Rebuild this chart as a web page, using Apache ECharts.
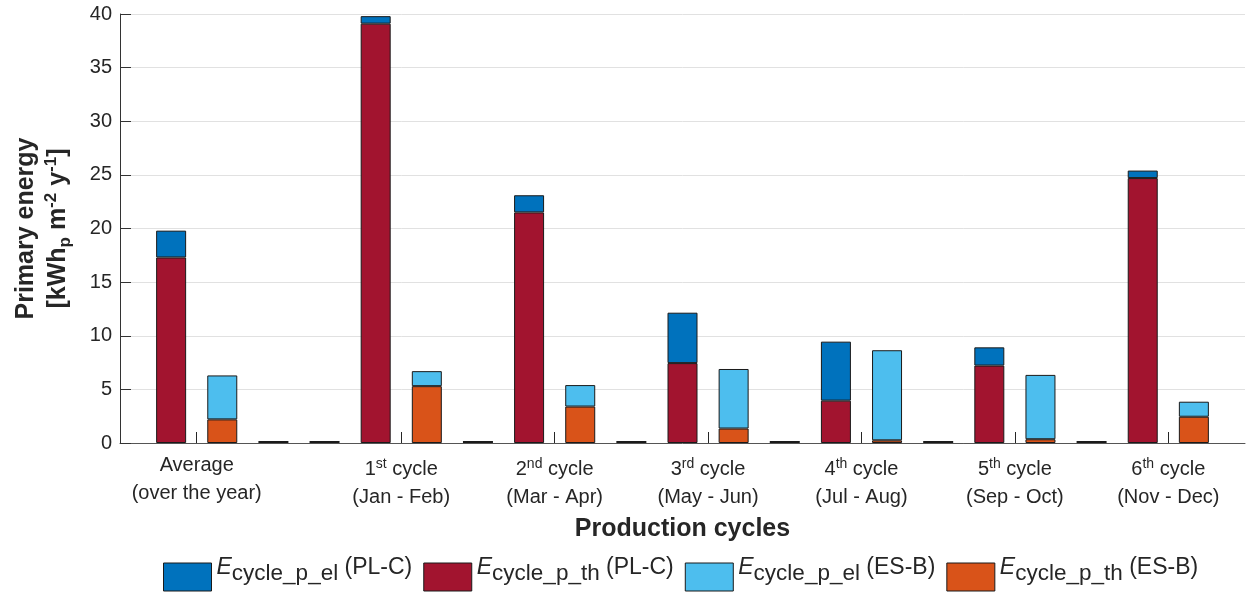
<!DOCTYPE html>
<html>
<head>
<meta charset="utf-8">
<title>Primary energy per production cycle</title>
<script src="https://cdn.jsdelivr.net/npm/echarts@6/dist/echarts.min.js"></script>
<style>
  html, body { margin: 0; padding: 0; background: #ffffff; }
  #chart { width: 1248px; height: 599px; }
</style>
</head>
<body>
<div id="chart"></div>
<script>
// Category labels: first line (with ^ marking a superscript) and period line
const categories = ['Average', '1^st cycle', '2^nd cycle', '3^rd cycle', '4^th cycle', '5^th cycle', '6^th cycle'];
const periods = ['(over the year)', '(Jan - Feb)', '(Mar - Apr)', '(May - Jun)', '(Jul - Aug)', '(Sep - Oct)', '(Nov - Dec)'];

// Primary energy, kWh_p m^-2 y^-1
const plcTh = [17.3, 39.1, 21.5, 7.45, 3.95, 7.22, 24.7];   // E_cycle_p_th (PL-C)
const plcEl = [2.5, 0.7, 1.6, 4.7, 5.5, 1.7, 0.7];          // E_cycle_p_el (PL-C)
const esbTh = [2.2, 5.3, 3.4, 1.35, 0.25, 0.35, 2.45];      // E_cycle_p_th (ES-B)
const esbEl = [4.1, 1.4, 2.0, 5.55, 8.4, 6.0, 1.4];         // E_cycle_p_el (ES-B)

const yTicks = [0, 5, 10, 15, 20, 25, 30, 35, 40];

// Layout of the bar slots along the x axis (one unit per bar slot)
const xRange = [-1.5, 20.5];
const groupCenters = [0, 4, 7, 10, 13, 16, 19];
const spacerSlots = [1.5, 2.5, 5.5, 8.5, 11.5, 14.5, 17.5];   // empty (zero-height) bars between groups

const FONT = '"Liberation Sans", Arial, Helvetica, sans-serif';
const TEXT = '#262626';
const EDGE = '#1a1a1a';

const NAMES = {
  plEl: 'E_cycle_p_el (PL-C)',
  plTh: 'E_cycle_p_th (PL-C)',
  esEl: 'E_cycle_p_el (ES-B)',
  esTh: 'E_cycle_p_th (ES-B)'
};

// Every unit position from one edge of the axis to the other is a category slot
const slots = [];
for (let x = xRange[0]; x <= xRange[1] + 1e-9; x += 1) {
  let slot = { x: x, g: -1, side: 'none' };
  groupCenters.forEach((c, i) => {
    if (Math.abs(c - 0.5 - x) < 1e-6) slot = { x: x, g: i, side: 'pl' };
    if (Math.abs(c + 0.5 - x) < 1e-6) slot = { x: x, g: i, side: 'es' };
  });
  if (spacerSlots.some(s => Math.abs(s - x) < 1e-6)) slot = { x: x, g: -1, side: 'gap' };
  slots.push(slot);
}

function column(values, side) {
  return slots.map(s => s.side === side ? values[s.g] : '-');
}
const spacerData = slots.map(s => s.side === 'gap' ? 0 : '-');

function barSeries(name, data, color) {
  return {
    name: name,
    type: 'bar',
    xAxisIndex: 0,
    stack: 'all',
    barWidth: 30,
    data: data,
    itemStyle: { color: color, borderColor: EDGE, borderWidth: 1 },
    emphasis: { disabled: true }
  };
}

function xLabel(value) {
  let idx = -1;
  groupCenters.forEach((c, i) => { if (Math.abs(c - value) < 1e-6) idx = i; });
  if (idx < 0) return '';
  const parts = categories[idx].match(/^(\d)\^(\w+)( .*)$/);
  const top = parts
    ? '{n|' + parts[1] + '}{sup|' + parts[2] + '}{n|' + parts[3] + '}'
    : '{n|' + categories[idx] + '}';
  return top + '\n{n|' + periods[idx] + '}';
}

function legendLabel(name) {
  const m = name.match(/^E_(\S+) (.*)$/);
  return '{e|E}{sub|' + m[1] + '}{n| ' + m[2] + '}';
}

const chart = echarts.init(document.getElementById('chart'), null, { renderer: 'canvas' });

chart.setOption({
  animation: false,
  backgroundColor: '#ffffff',
  textStyle: { fontFamily: FONT, color: TEXT },
  grid: { left: 120, right: 3, top: 14, bottom: 156, containLabel: false, outerBoundsMode: 'none' },
  xAxis: [
    {
      // slot axis carrying the bars
      type: 'category',
      data: slots.map(s => String(s.x)),
      boundaryGap: false,
      show: false
    },
    {
      // visible axis with ticks at the group centres
      type: 'value',
      min: xRange[0],
      max: xRange[1],
      position: 'bottom',
      axisLine: { show: true, onZero: false, lineStyle: { color: '#555555', width: 1 } },
      axisTick: { show: true, inside: true, length: 11, customValues: groupCenters, lineStyle: { color: '#262626', width: 1 } },
      axisLabel: {
        customValues: groupCenters,
        formatter: xLabel,
        margin: 8,
        fontFamily: FONT,
        color: TEXT,
        rich: {
          n: { fontSize: 20, fontFamily: FONT, color: TEXT, height: 28, lineHeight: 28, verticalAlign: 'bottom' },
          sup: { fontSize: 14, fontFamily: FONT, color: TEXT, height: 26, lineHeight: 32.5, verticalAlign: 'top' }
        }
      },
      splitLine: { show: false },
      name: 'Production cycles',
      nameLocation: 'middle',
      nameGap: 72,
      nameMoveOverlap: false,
      nameTextStyle: { fontFamily: FONT, fontSize: 25, fontWeight: 'bold', color: TEXT, lineHeight: 28 }
    }
  ],
  yAxis: {
    type: 'value',
    min: yTicks[0],
    max: yTicks[yTicks.length - 1],
    interval: yTicks[1] - yTicks[0],
    axisLine: { show: true, onZero: false, lineStyle: { color: '#333333', width: 1 } },
    axisTick: { show: true, inside: true, length: 11, lineStyle: { color: '#333333', width: 1 } },
    axisLabel: { fontFamily: FONT, fontSize: 20, color: TEXT, margin: 8 },
    splitLine: { show: true, lineStyle: { color: '#e1e1e1', width: 1 } },
    name: '{b|Primary energy}\n{b2|[kWh}{sub|p}{b2| m}{sup|-2}{b2| y}{sup|-1}{b2|]}',
    nameLocation: 'middle',
    nameRotate: 90,
    nameGap: 45,
    nameMoveOverlap: false,
    nameTextStyle: {
      fontFamily: FONT, fontSize: 25, fontWeight: 'bold', color: TEXT,
      rich: {
        b: { fontFamily: FONT, fontSize: 25, fontWeight: 'bold', color: TEXT, lineHeight: 30 },
        b2: { fontFamily: FONT, fontSize: 25, fontWeight: 'bold', color: TEXT, height: 34, lineHeight: 34, verticalAlign: 'top' },
        sup: { fontFamily: FONT, fontSize: 17, fontWeight: 'bold', color: TEXT, height: 20, lineHeight: 34, verticalAlign: 'top' },
        sub: { fontFamily: FONT, fontSize: 17, fontWeight: 'bold', color: TEXT, height: 48, lineHeight: 34, verticalAlign: 'top' }
      }
    }
  },
  legend: {
    data: [NAMES.plEl, NAMES.plTh, NAMES.esEl, NAMES.esTh],
    left: 163,
    top: 556,
    padding: 0,
    icon: 'rect',
    itemWidth: 48,
    itemHeight: 28,
    itemGap: 11,
    selectedMode: false,
    itemStyle: { borderColor: EDGE, borderWidth: 1 },
    formatter: legendLabel,
    textStyle: {
      fontFamily: FONT, color: TEXT,
      rich: {
        e: { fontFamily: FONT, fontSize: 23, fontStyle: 'italic', color: TEXT, height: 17, lineHeight: 36, verticalAlign: 'top' },
        n: { fontFamily: FONT, fontSize: 23, color: TEXT, height: 17, lineHeight: 36, verticalAlign: 'top' },
        sub: { fontFamily: FONT, fontSize: 22.5, color: TEXT, height: 29, lineHeight: 36, verticalAlign: 'top' }
      }
    }
  },
  series: [
    barSeries(NAMES.plTh, column(plcTh, 'pl'), '#A2142F'),
    barSeries(NAMES.plEl, column(plcEl, 'pl'), '#0072BD'),
    barSeries(NAMES.esTh, column(esbTh, 'es'), '#D95319'),
    barSeries(NAMES.esEl, column(esbEl, 'es'), '#4DBEEE'),
    {
      name: 'spacer',
      type: 'bar',
      xAxisIndex: 0,
      stack: 'all',
      barWidth: 30,
      barMinHeight: 2,
      data: spacerData,
      itemStyle: { color: EDGE, borderWidth: 0 },
      emphasis: { disabled: true }
    }
  ]
});
</script>
</body>
</html>
